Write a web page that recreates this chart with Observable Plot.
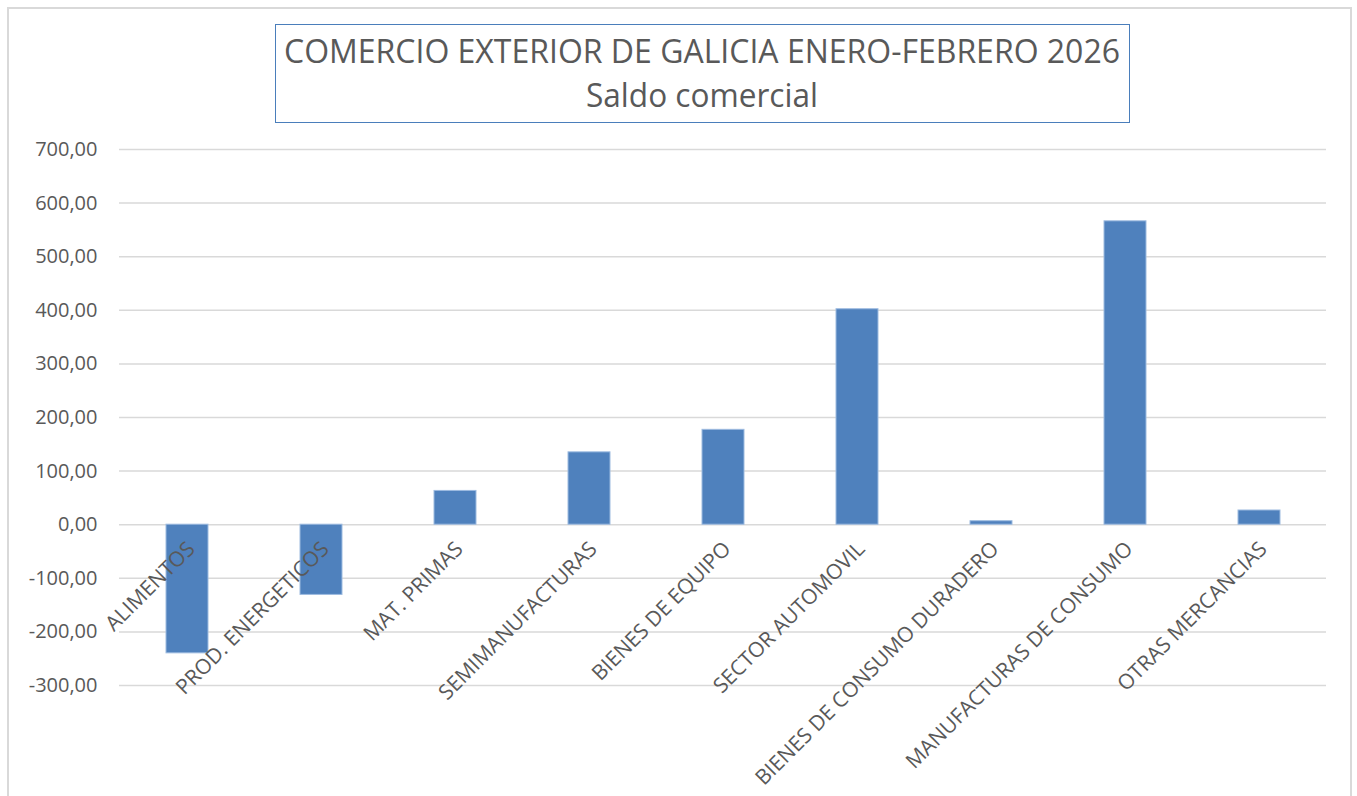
<!DOCTYPE html>
<html>
<head>
<meta charset="utf-8">
<script src="https://cdn.jsdelivr.net/npm/d3@7"></script>
<script src="https://cdn.jsdelivr.net/npm/@observablehq/plot@0.6"></script>
<style>
  html, body { margin: 0; padding: 0; background: #fff; }
  #wrap { position: relative; width: 1357px; height: 796px; overflow: hidden; background: #fff; }
  #frame { position: absolute; left: 7px; top: 7px; width: 1345px; height: 800px;
           border: 2px solid #d9d9d9; border-bottom: none; box-sizing: border-box; }
  #titlebox { position: absolute; left: 275px; top: 24px; width: 855px; height: 99px;
              border: 1.5px solid #4a7ebb; box-sizing: border-box; background: #fff; }
  #titlebox svg { position: absolute; left: 0; top: 0; overflow: visible; }
  #chart { position: absolute; left: 0; top: 0; }
</style>
</head>
<body>
<div id="wrap">
  <div id="frame"></div>
  <div id="chart"></div>
  <div id="titlebox">
    <svg width="852" height="96">
      <text x="426" y="29" text-anchor="middle" dominant-baseline="middle" font-family="Open Sans" font-weight="400" font-size="33" fill="#595959" textLength="836" lengthAdjust="spacingAndGlyphs">COMERCIO EXTERIOR DE GALICIA ENERO-FEBRERO 2026</text>
      <text x="426" y="73" text-anchor="middle" dominant-baseline="middle" font-family="Open Sans" font-weight="400" font-size="33" fill="#595959" textLength="232" lengthAdjust="spacingAndGlyphs">Saldo comercial</text>
    </svg>
  </div>
</div>
<script>
const categories = [
  "ALIMENTOS",
  "PROD. ENERGETICOS",
  "MAT. PRIMAS",
  "SEMIMANUFACTURAS",
  "BIENES DE EQUIPO",
  "SECTOR AUTOMOVIL",
  "BIENES DE CONSUMO DURADERO",
  "MANUFACTURAS DE CONSUMO",
  "OTRAS MERCANCIAS"
];
const saldo = [-240, -131, 63, 135, 177, 402, 6.5, 566, 26.5];
const yTicks = [-300, -200, -100, 0, 100, 200, 300, 400, 500, 600, 700];

const data = categories.map((c, i) => ({cat: c, value: saldo[i]}));
const fmt = d => d3.format(".2f")(d).replace(".", ",").replace("\u2212", "-");

const chart = Plot.plot({
  width: 1357,
  height: 796,
  marginLeft: 119,
  marginRight: 31,
  marginTop: 149,
  marginBottom: 111,
  style: {fontFamily: "Open Sans", fontSize: "20px", color: "#595959", background: "transparent", overflow: "visible"},
  x: {domain: categories, paddingInner: 0.687, paddingOuter: 0.3435, axis: null},
  y: {domain: [-300, 700], axis: null},
  marks: [
    Plot.ruleY(yTicks, {stroke: "#d9d9d9", strokeWidth: 1.5}),
    Plot.barY(data, {x: "cat", y: "value", fill: "#4f81bd", stroke: "#9dbbe0", strokeWidth: 1}),
    Plot.axisY(yTicks, {label: null, tickSize: 0, tickPadding: 22, tickFormat: fmt, fontSize: 20, fill: "#595959"}),
    Plot.text(data, {x: "cat", y: () => 0, text: "cat", rotate: -45, textAnchor: "end", lineAnchor: "top",
                     dx: -2, dy: 15, fontSize: 21, fill: "#595959"})
  ]
});
document.getElementById("chart").appendChild(chart);
</script>
</body>
</html>
